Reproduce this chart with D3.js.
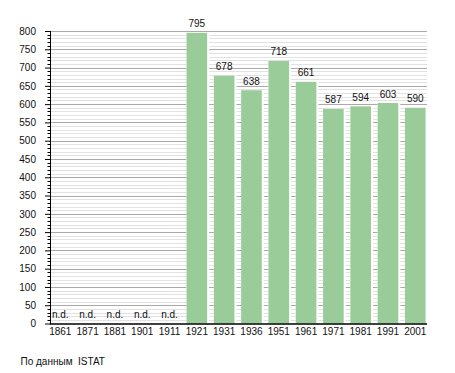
<!DOCTYPE html>
<html><head><meta charset="utf-8">
<script src="https://cdn.jsdelivr.net/npm/d3@7"></script>
<style>
body{margin:0;background:#fff;}
text{font-family:"Liberation Sans",Arial,sans-serif;}
</style></head>
<body><svg id="c" width="455" height="373"></svg>
<script>
const years = ["1861","1871","1881","1901","1911","1921","1931","1936","1951","1961","1971","1981","1991","2001"];
const population = [null,null,null,null,null,795,678,638,718,661,587,594,603,590];
const yTicks = [0,50,100,150,200,250,300,350,400,450,500,550,600,650,700,750,800];
const noDataLabel = "n.d.";
const sourceText = "По данным  ISTAT";

const svg = d3.select("#c");
const x0 = 50, x1 = 432.3, yBottom = 323.5, yTop = 31;
const gridRight = 427;

const x = d3.scaleBand().domain(years).range([x0, x1])
  .paddingInner(0.245).paddingOuter(0.1225).align(0);
const y = d3.scaleLinear().domain([0, 800]).range([yBottom, yTop]);

// minor gridlines
const minor = d3.range(0, 801, 10).filter(v => v % 50 !== 0);
svg.append("g").selectAll("line").data(minor).join("line")
  .attr("x1", x0).attr("x2", gridRight)
  .attr("y1", d => Math.round(y(d)) + 0.5).attr("y2", d => Math.round(y(d)) + 0.5)
  .attr("stroke", "#e2e2e2").attr("stroke-width", 1);
// major gridlines
svg.append("g").selectAll("line").data(yTicks.filter(v => v > 0)).join("line")
  .attr("x1", x0).attr("x2", gridRight)
  .attr("y1", d => Math.round(y(d)) + 0.5).attr("y2", d => Math.round(y(d)) + 0.5)
  .attr("stroke", "#aaaaaa").attr("stroke-width", 1);

// bars (with white strip at right)
const data = years.map((yr, i) => ({yr, v: population[i]}));
svg.append("g").selectAll("rect").data(data.filter(d => d.v != null)).join("rect")
  .attr("x", d => x(d.yr)).attr("width", x.bandwidth() + 2)
  .attr("y", d => y(d.v)).attr("height", d => y(0) - y(d.v))
  .attr("fill", "#ffffff");
svg.append("g").selectAll("rect").data(data.filter(d => d.v != null)).join("rect")
  .attr("x", d => x(d.yr)).attr("width", x.bandwidth())
  .attr("y", d => y(d.v)).attr("height", d => y(0) - y(d.v))
  .attr("fill", "#99cc99");

// value labels
svg.append("g").selectAll("text").data(data).join("text")
  .attr("x", d => x(d.yr) + x.bandwidth() / 2)
  .attr("y", d => y(d.v == null ? 0 : d.v) - 5.5)
  .attr("text-anchor", "middle").attr("font-size", 10).attr("fill", "#111")
  .text(d => d.v == null ? noDataLabel : d.v);

// y axis
const yAxis = svg.append("g").attr("transform", `translate(${x0},0)`)
  .call(d3.axisLeft(y).tickValues(yTicks).tickSize(5).tickPadding(9).tickFormat(d3.format("d")));
yAxis.select(".domain").remove();
yAxis.selectAll("text").attr("font-size", 10).attr("fill", "#111").style("font-family", "Liberation Sans, Arial, sans-serif");
yAxis.selectAll("line").attr("stroke", "#000");
svg.append("g").selectAll("line").data(minor).join("line")
  .attr("x1", x0 - 2.5).attr("x2", x0)
  .attr("y1", d => Math.round(y(d)) + 0.5).attr("y2", d => Math.round(y(d)) + 0.5)
  .attr("stroke", "#000");
svg.append("line").attr("x1", x0 + 0.5).attr("x2", x0 + 0.5)
  .attr("y1", y(800)).attr("y2", yBottom + 1).attr("stroke", "#000");

// x axis
svg.append("line").attr("x1", x0).attr("x2", gridRight)
  .attr("y1", yBottom + 0.5).attr("y2", yBottom + 0.5).attr("stroke", "#000").attr("stroke-width", 1.5);
const xAxis = svg.append("g").attr("transform", `translate(0,${yBottom})`)
  .call(d3.axisBottom(x).tickSize(0).tickPadding(4));
xAxis.select(".domain").remove();
xAxis.selectAll("text").attr("font-size", 10).attr("fill", "#111").style("font-family", "Liberation Sans, Arial, sans-serif");

// footer
svg.append("text").attr("x", 20.5).attr("y", 365).attr("font-size", 10).attr("fill", "#111")
  .attr("xml:space", "preserve").style("white-space", "pre").text(sourceText);
</script></body></html>
